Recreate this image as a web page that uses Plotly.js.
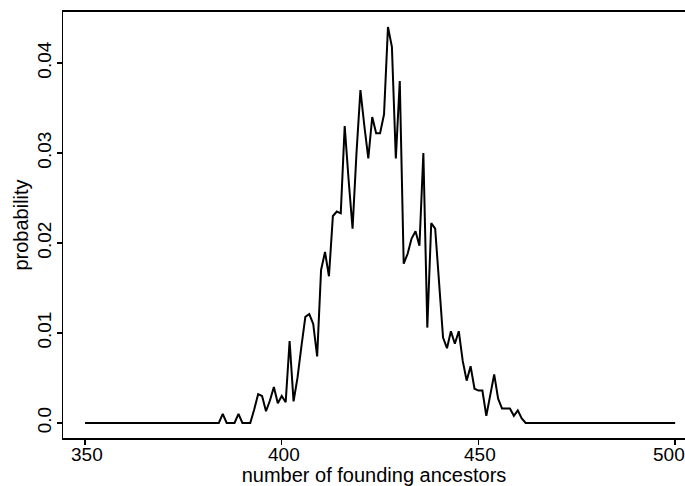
<!DOCTYPE html>
<html>
<head>
<meta charset="utf-8">
<script src="https://cdn.plot.ly/plotly-3.0.1.min.js"></script>
<style>html,body{margin:0;padding:0;background:#fff}#chart{width:685px;height:486px}</style>
</head>
<body>
<div id="chart"></div>
<script>
// number of founding ancestors (integer values 350..500)
const ancestorsStart = 350;
const probability = [
  // 350-359
  0,0,0,0,0,0,0,0,0,0,
  // 360-369
  0,0,0,0,0,0,0,0,0,0,
  // 370-379
  0,0,0,0,0,0,0,0,0,0,
  // 380-389
  0,0,0,0,0,0.001,0,0,0,0.001,
  // 390-399
  0,0,0,0.0015,0.0032,0.003,0.0013,0.0025,0.004,0.0022,
  // 400-409
  0.003,0.0023,0.0091,0.0024,0.005,0.0085,0.0118,0.0121,0.011,0.0074,
  // 410-419
  0.017,0.019,0.0163,0.023,0.0235,0.0233,0.033,0.027,0.0216,0.030,
  // 420-429
  0.037,0.033,0.0294,0.034,0.0322,0.0322,0.0343,0.044,0.0418,0.0294,
  // 430-439
  0.038,0.0177,0.0188,0.0205,0.0213,0.0197,0.030,0.0106,0.0222,0.0216,
  // 440-449
  0.016,0.0095,0.0083,0.0102,0.0088,0.0102,0.0069,0.0047,0.0063,0.0038,
  // 450-459
  0.0036,0.0036,0.0008,0.003,0.0054,0.0027,0.0016,0.0016,0.0016,0.0008,
  // 460-469
  0.0014,0.0005,0,0,0,0,0,0,0,0,
  // 470-479
  0,0,0,0,0,0,0,0,0,0,
  // 480-489
  0,0,0,0,0,0,0,0,0,0,
  // 490-500
  0,0,0,0,0,0,0,0,0,0,0
];
const ancestors = probability.map((_, i) => ancestorsStart + i);

const xTickVals = [350, 400, 450, 500];
const xTickText = ['350', '400', '450', '500'];
const yTickVals = [0, 0.01, 0.02, 0.03, 0.04];
const yTickText = ['0.0', '0.01', '0.02', '0.03', '0.04'];

const family = '"Liberation Sans", Arial, sans-serif';
const tickFont = {family: family, size: 19, color: '#000'};
const titleFont = {family: family, size: 20, color: '#000'};

const trace = {
  x: ancestors,
  y: probability,
  type: 'scatter',
  mode: 'lines',
  line: {color: '#000', width: 2},
  hoverinfo: 'x+y'
};

// x tick labels as annotations tied to the x axis scale (the last one is
// nudged left so it stays inside the page, as in the original)
const xLabelAnnotations = xTickVals.map((v, i) => ({
  x: v,
  xref: 'x',
  y: -0.038,
  yref: 'paper',
  text: xTickText[i],
  showarrow: false,
  xanchor: 'center',
  yanchor: 'middle',
  xshift: i === xTickVals.length - 1 ? -6 : 2,
  font: tickFont
}));

const layout = {
  width: 685,
  height: 486,
  margin: {l: 63, r: 0, t: 12, b: 48, pad: 0},
  paper_bgcolor: '#fff',
  plot_bgcolor: '#fff',
  showlegend: false,
  font: tickFont,
  annotations: xLabelAnnotations,
  xaxis: {
    range: [344.4, 502.5],
    tickvals: xTickVals,
    showticklabels: false,
    ticks: 'outside',
    ticklen: 5,
    tickwidth: 1.5,
    tickcolor: '#000',
    showline: true,
    linecolor: '#000',
    linewidth: 2,
    mirror: true,
    showgrid: false,
    zeroline: false,
    title: {text: 'number of founding ancestors', font: titleFont, standoff: 26}
  },
  yaxis: {
    range: [-0.00167, 0.04567],
    tickvals: yTickVals,
    ticktext: yTickText,
    tickangle: -90,
    ticks: 'outside',
    ticklen: 5,
    tickwidth: 1.5,
    tickcolor: '#000',
    ticklabelstandoff: -2,
    showline: true,
    linecolor: '#000',
    linewidth: 1.5,
    mirror: false,
    showgrid: false,
    zeroline: false,
    tickfont: tickFont,
    title: {text: 'probability', font: titleFont, standoff: 0}
  }
};

Plotly.newPlot('chart', [trace], layout, {staticPlot: true, displayModeBar: false});
</script>
</body>
</html>
